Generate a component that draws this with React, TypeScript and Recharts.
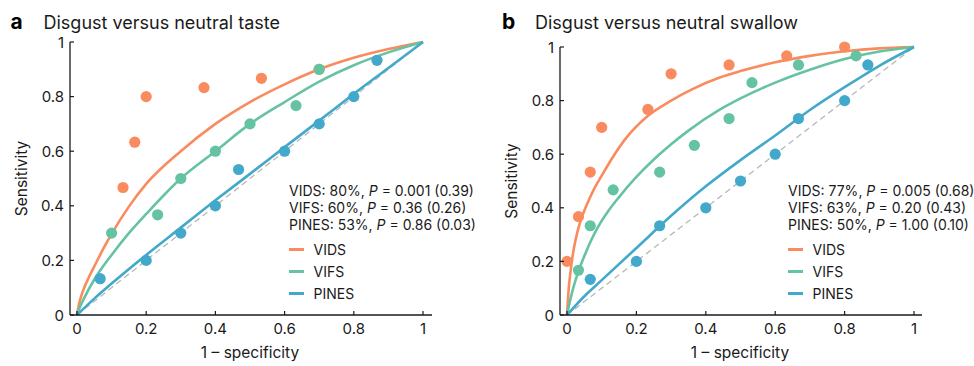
import React from 'react';
import { ComposedChart, Line, Scatter, XAxis, YAxis, ReferenceLine, Legend } from 'recharts';

const FONT = 'Inter, "Noto Sans", sans-serif';
const INK = '#1a1a1a';

const seriesNames = ['VIDS', 'VIFS', 'PINES'];
const seriesColors = ['#F98B5F', '#66C3A2', '#43A9CA'];

const axisTicks = [0, 0.2, 0.4, 0.6, 0.8, 1];

// Panel a: disgust versus neutral taste
const tasteVidsPoints = [
  { x: 0.133, y: 0.467 }, { x: 0.167, y: 0.633 }, { x: 0.2, y: 0.8 },
  { x: 0.367, y: 0.833 }, { x: 0.533, y: 0.867 }, { x: 0.7, y: 0.9 },
];
const tasteVifsPoints = [
  { x: 0.1, y: 0.3 }, { x: 0.233, y: 0.367 }, { x: 0.3, y: 0.5 }, { x: 0.4, y: 0.6 },
  { x: 0.5, y: 0.7 }, { x: 0.633, y: 0.767 }, { x: 0.7, y: 0.9 },
];
const tastePinesPoints = [
  { x: 0.067, y: 0.133 }, { x: 0.2, y: 0.2 }, { x: 0.3, y: 0.3 }, { x: 0.4, y: 0.4 },
  { x: 0.467, y: 0.533 }, { x: 0.6, y: 0.6 }, { x: 0.7, y: 0.7 }, { x: 0.8, y: 0.8 },
  { x: 0.867, y: 0.933 },
];
const tasteVidsCurve = [
  { x: 0, y: 0 }, { x: 0.005, y: 0.035 }, { x: 0.01, y: 0.06 }, { x: 0.02, y: 0.097 },
  { x: 0.035, y: 0.14 }, { x: 0.05, y: 0.178 }, { x: 0.075, y: 0.24 }, { x: 0.1, y: 0.297 },
  { x: 0.15, y: 0.397 }, { x: 0.2, y: 0.48 }, { x: 0.3, y: 0.6 }, { x: 0.4, y: 0.7 },
  { x: 0.5, y: 0.78 }, { x: 0.6, y: 0.845 }, { x: 0.7, y: 0.9 }, { x: 0.8, y: 0.942 },
  { x: 0.9, y: 0.974 }, { x: 1, y: 1 },
];
const tasteVifsCurve = [
  { x: 0, y: 0 }, { x: 0.005, y: 0.018 }, { x: 0.02, y: 0.06 }, { x: 0.05, y: 0.13 },
  { x: 0.1, y: 0.22 }, { x: 0.15, y: 0.3 }, { x: 0.2, y: 0.37 }, { x: 0.3, y: 0.5 },
  { x: 0.4, y: 0.6 }, { x: 0.5, y: 0.7 }, { x: 0.6, y: 0.78 }, { x: 0.7, y: 0.855 },
  { x: 0.8, y: 0.915 }, { x: 0.9, y: 0.962 }, { x: 1, y: 1 },
];
const tastePinesCurve = [
  { x: 0, y: 0 }, { x: 0.05, y: 0.06 }, { x: 0.1, y: 0.115 }, { x: 0.2, y: 0.22 },
  { x: 0.3, y: 0.32 }, { x: 0.4, y: 0.42 }, { x: 0.5, y: 0.517 }, { x: 0.6, y: 0.615 },
  { x: 0.7, y: 0.712 }, { x: 0.8, y: 0.81 }, { x: 0.9, y: 0.905 }, { x: 1, y: 1 },
];
const tasteStats = ['80%', '60%', '53%'];
const tasteP = ['0.001', '0.36', '0.86'];
const tasteAuc = ['0.39', '0.26', '0.03'];

// Panel b: disgust versus neutral swallow
const swallowVidsPoints = [
  { x: 0, y: 0.2 }, { x: 0.033, y: 0.367 }, { x: 0.067, y: 0.533 }, { x: 0.1, y: 0.7 },
  { x: 0.233, y: 0.767 }, { x: 0.3, y: 0.9 }, { x: 0.467, y: 0.933 }, { x: 0.633, y: 0.967 },
  { x: 0.8, y: 1.0 },
];
const swallowVifsPoints = [
  { x: 0.033, y: 0.167 }, { x: 0.067, y: 0.333 }, { x: 0.133, y: 0.467 }, { x: 0.267, y: 0.533 },
  { x: 0.367, y: 0.633 }, { x: 0.467, y: 0.733 }, { x: 0.533, y: 0.867 }, { x: 0.667, y: 0.933 },
  { x: 0.833, y: 0.967 },
];
const swallowPinesPoints = [
  { x: 0.067, y: 0.133 }, { x: 0.2, y: 0.2 }, { x: 0.267, y: 0.333 }, { x: 0.4, y: 0.4 },
  { x: 0.5, y: 0.5 }, { x: 0.6, y: 0.6 }, { x: 0.667, y: 0.733 }, { x: 0.8, y: 0.8 },
  { x: 0.867, y: 0.933 },
];
const swallowVidsCurve = [
  { x: 0, y: 0 }, { x: 0.005, y: 0.1 }, { x: 0.01, y: 0.16 }, { x: 0.015, y: 0.21 },
  { x: 0.02, y: 0.25 }, { x: 0.03, y: 0.31 }, { x: 0.04, y: 0.355 }, { x: 0.05, y: 0.39 },
  { x: 0.065, y: 0.435 }, { x: 0.08, y: 0.475 }, { x: 0.1, y: 0.52 }, { x: 0.13, y: 0.585 },
  { x: 0.17, y: 0.66 }, { x: 0.23, y: 0.74 }, { x: 0.3, y: 0.8 }, { x: 0.36, y: 0.842 },
  { x: 0.44, y: 0.886 }, { x: 0.5, y: 0.91 }, { x: 0.6, y: 0.943 }, { x: 0.7, y: 0.967 },
  { x: 0.8, y: 0.984 }, { x: 0.9, y: 0.995 }, { x: 1, y: 1 },
];
const swallowVifsCurve = [
  { x: 0, y: 0 }, { x: 0.01, y: 0.06 }, { x: 0.02, y: 0.11 }, { x: 0.035, y: 0.17 },
  { x: 0.05, y: 0.22 }, { x: 0.07, y: 0.28 }, { x: 0.09, y: 0.33 }, { x: 0.12, y: 0.39 },
  { x: 0.15, y: 0.44 }, { x: 0.2, y: 0.515 }, { x: 0.25, y: 0.58 }, { x: 0.3, y: 0.637 },
  { x: 0.35, y: 0.688 }, { x: 0.44, y: 0.766 }, { x: 0.5, y: 0.808 }, { x: 0.6, y: 0.867 },
  { x: 0.7, y: 0.915 }, { x: 0.8, y: 0.955 }, { x: 0.9, y: 0.983 }, { x: 1, y: 1 },
];
const swallowPinesCurve = [
  { x: 0, y: 0 }, { x: 0.05, y: 0.07 }, { x: 0.1, y: 0.13 }, { x: 0.2, y: 0.25 },
  { x: 0.3, y: 0.37 }, { x: 0.4, y: 0.48 }, { x: 0.5, y: 0.578 }, { x: 0.6, y: 0.67 },
  { x: 0.7, y: 0.765 }, { x: 0.8, y: 0.85 }, { x: 0.9, y: 0.93 }, { x: 1, y: 1 },
];
const swallowStats = ['77%', '63%', '50%'];
const swallowP = ['0.005', '0.20', '1.00'];
const swallowAuc = ['0.68', '0.43', '0.10'];

const xLabel = '1\u00A0\u2013 specificity';
const yLabel = 'Sensitivity';

const fmt = (v: number) => (v === 0 ? '0' : v === 1 ? '1' : v.toFixed(1));

const YTick = (props: any) => {
  const { x, y, payload } = props;
  const ax = x + 6;
  return (
    <g>
      <line x1={ax} x2={ax + 4} y1={y} y2={y} stroke={INK} strokeWidth={1.2} />
      <text x={x} y={y} textAnchor="end" dominantBaseline="central" fontSize={15} fontFamily={FONT} fill={INK}>
        {fmt(payload.value)}
      </text>
    </g>
  );
};

const XTick = (props: any) => {
  const { x, y, payload } = props;
  const ay = y - 8;
  return (
    <g>
      <line x1={x} x2={x} y1={ay} y2={ay - 4} stroke={INK} strokeWidth={1.2} />
      <text x={x} y={y} dy="0.71em" textAnchor="middle" fontSize={15} fontFamily={FONT} fill={INK}>
        {fmt(payload.value)}
      </text>
    </g>
  );
};

const makeLegend = (stats: string[], ps: string[], aucs: string[]) => () => (
  <svg width={200} height={130} style={{ display: 'block', overflow: 'visible' }}>
    {seriesNames.map((n, i) => (
      <text key={'s' + i} x={0} y={16 + i * 17.2} fontSize={14} fontFamily={FONT} fill={INK}>
        {n}: {stats[i]}, <tspan fontStyle="italic">P</tspan> = {ps[i]} ({aucs[i]})
      </text>
    ))}
    {seriesNames.map((n, i) => (
      <g key={'l' + i}>
        <line x1={0} x2={15} y1={69.5 + i * 22} y2={69.5 + i * 22} stroke={seriesColors[i]} strokeWidth={3} />
        <text x={24.5} y={74.5 + i * 22.2} fontSize={14} fontFamily={FONT} fill={INK}>{n}</text>
      </g>
    ))}
  </svg>
);

const dot = (color: string) => (p: any) => <circle cx={p.cx} cy={p.cy} r={5.6} fill={color} />;

type PanelProps = {
  top: number;
  width: number;
  xMax: number;
  legendLeft: number;
  curves: { x: number; y: number }[][];
  points: { x: number; y: number }[][];
  stats: string[];
  ps: string[];
  aucs: string[];
};

const Panel = ({ top, width, xMax, legendLeft, curves, points, stats, ps, aucs }: PanelProps) => (
  <ComposedChart
    width={width}
    height={366}
    margin={{ top, right: width - 70 - 362, bottom: 0, left: 0 }}
    style={{ fontFamily: FONT, overflow: 'visible' }}
  >
    <XAxis
      type="number"
      dataKey="x"
      domain={[-0.0202, xMax]}
      ticks={axisTicks}
      height={51}
      tickSize={0}
      tickMargin={8}
      tickLine={false}
      tick={XTick}
      axisLine={{ stroke: INK, strokeWidth: 1.3 }}
      label={(p: any) => {
        const vb = p.viewBox;
        return (
          <text x={vb.x + vb.width / 2 - 1} y={vb.y + 43} textAnchor="middle" fontSize={15.5} fontFamily={FONT} fill={INK}>
            {xLabel}
          </text>
        );
      }}
    />
    <YAxis
      type="number"
      dataKey="y"
      domain={[0, 1]}
      ticks={axisTicks}
      width={70}
      tickSize={0}
      tickMargin={6}
      tickLine={false}
      tick={YTick}
      axisLine={{ stroke: INK, strokeWidth: 1.3 }}
      label={(p: any) => {
        const vb = p.viewBox;
        const cx = 21;
        const cy = vb.y + vb.height / 2;
        return (
          <text x={cx} y={cy} transform={`rotate(-90 ${cx} ${cy})`} textAnchor="middle" dominantBaseline="central" fontSize={15.5} fontFamily={FONT} fill={INK}>
            {yLabel}
          </text>
        );
      }}
    />
    <ReferenceLine
      segment={[{ x: 0, y: 0 }, { x: 1, y: 1 }]}
      stroke="#b8b8b8"
      strokeWidth={1.3}
      strokeDasharray="6 4"
      ifOverflow="visible"
    />
    {curves.map((c, i) => (
      <Line
        key={'c' + i}
        data={c}
        dataKey="y"
        type="monotone"
        dot={false}
        activeDot={false}
        stroke={seriesColors[i]}
        strokeWidth={2.6}
        isAnimationActive={false}
      />
    ))}
    {points.map((pts, i) => (
      <Scatter key={'p' + i} data={pts} dataKey="y" fill={seriesColors[i]} shape={dot(seriesColors[i])} isAnimationActive={false} />
    ))}
    <Legend
      layout="vertical"
      align="center"
      verticalAlign="middle"
      wrapperStyle={{ position: 'absolute', left: legendLeft, top: 180, width: 200, height: 130 }}
      content={makeLegend(stats, ps, aucs)}
    />
  </ComposedChart>
);

export default function App() {
  return (
    <div style={{ position: 'absolute', left: 0, top: 0, width: 974, height: 366, background: '#fff', fontFamily: FONT }}>
      <svg width={974} height={40} style={{ position: 'absolute', left: 0, top: 0 }}>
        <text x={10.5} y={29} fontSize={21} fontWeight={700} fontFamily={FONT} fill="#000">a</text>
        <text x={43.5} y={29} fontSize={18} fontFamily={FONT} fill={INK}>Disgust versus neutral taste</text>
        <text x={502} y={29} fontSize={21} fontWeight={700} fontFamily={FONT} fill="#000">b</text>
        <text x={535} y={29} fontSize={18} fontFamily={FONT} fill={INK}>Disgust versus neutral swallow</text>
      </svg>
      <div style={{ position: 'absolute', left: 0, top: 0 }}>
        <Panel
          top={42}
          width={487}
          xMax={1.026}
          legendLeft={289}
          curves={[tasteVidsCurve, tasteVifsCurve, tastePinesCurve]}
          points={[tasteVidsPoints, tasteVifsPoints, tastePinesPoints]}
          stats={tasteStats}
          ps={tasteP}
          aucs={tasteAuc}
        />
      </div>
      <div style={{ position: 'absolute', left: 490, top: 0 }}>
        <Panel
          top={47}
          width={484}
          xMax={1.023}
          legendLeft={297.7}
          curves={[swallowVidsCurve, swallowVifsCurve, swallowPinesCurve]}
          points={[swallowVidsPoints, swallowVifsPoints, swallowPinesPoints]}
          stats={swallowStats}
          ps={swallowP}
          aucs={swallowAuc}
        />
      </div>
    </div>
  );
}
